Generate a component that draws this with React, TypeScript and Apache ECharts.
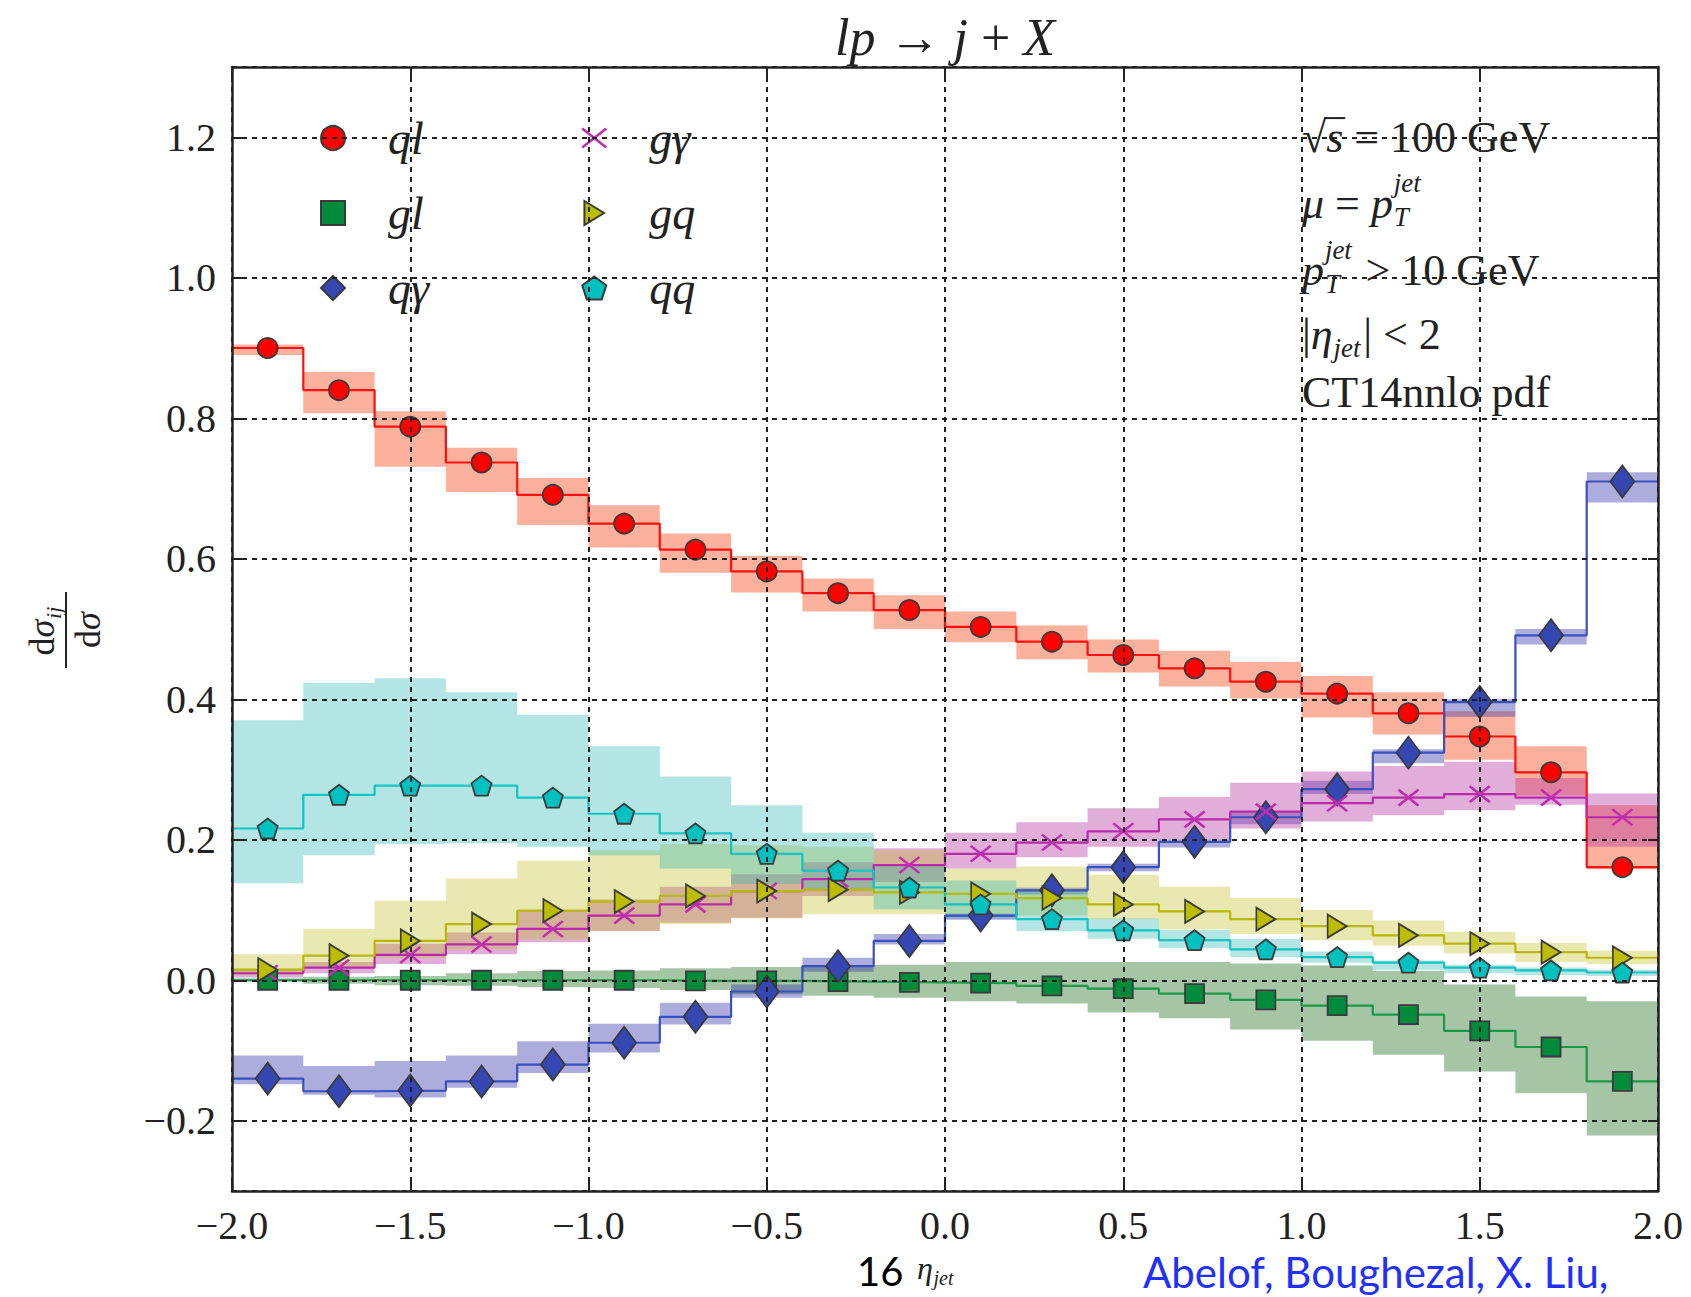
import React, { useEffect, useRef } from 'react';
import * as echarts from 'echarts';

// ---------------- data ----------------
const edges = [-2.0, -1.8, -1.6, -1.4, -1.2, -1.0, -0.8, -0.6, -0.4, -0.2, 0.0, 0.2, 0.4, 0.6, 0.8, 1.0, 1.2, 1.4, 1.6, 1.8, 2.0];
const centers = [-1.9, -1.7, -1.5, -1.3, -1.1, -0.9, -0.7, -0.5, -0.3, -0.1, 0.1, 0.3, 0.5, 0.7, 0.9, 1.1, 1.3, 1.5, 1.7, 1.9];

const qlVal = [0.900, 0.840, 0.788, 0.737, 0.691, 0.650, 0.613, 0.582, 0.551, 0.527, 0.503, 0.482, 0.463, 0.444, 0.425, 0.408, 0.380, 0.347, 0.296, 0.161];
const qlLo = [0.890, 0.807, 0.731, 0.695, 0.648, 0.616, 0.580, 0.552, 0.525, 0.500, 0.481, 0.457, 0.438, 0.418, 0.401, 0.374, 0.350, 0.314, 0.263, 0.158];
const qlHi = [0.905, 0.866, 0.810, 0.758, 0.715, 0.676, 0.636, 0.604, 0.572, 0.548, 0.525, 0.505, 0.485, 0.469, 0.453, 0.433, 0.410, 0.383, 0.333, 0.249];

const glVal = [0.000, 0.000, 0.000, 0.000, 0.000, 0.000, -0.001, -0.001, -0.002, -0.003, -0.004, -0.008, -0.012, -0.019, -0.028, -0.036, -0.049, -0.072, -0.095, -0.144];
const glLo = [-0.002, -0.005, -0.007, -0.008, -0.010, -0.011, -0.014, -0.020, -0.022, -0.025, -0.030, -0.033, -0.046, -0.054, -0.070, -0.086, -0.106, -0.130, -0.161, -0.221];
const glHi = [0.003, 0.005, 0.006, 0.010, 0.013, 0.014, 0.017, 0.019, 0.020, 0.022, 0.026, 0.026, 0.026, 0.026, 0.024, 0.021, 0.013, -0.006, -0.023, -0.030];

const qaVal = [-0.140, -0.158, -0.157, -0.144, -0.120, -0.089, -0.052, -0.016, 0.020, 0.056, 0.092, 0.128, 0.161, 0.197, 0.232, 0.272, 0.324, 0.396, 0.491, 0.710];
const qaLo = [-0.148, -0.163, -0.167, -0.153, -0.132, -0.103, -0.063, -0.025, 0.012, 0.051, 0.086, 0.122, 0.155, 0.189, 0.222, 0.265, 0.309, 0.375, 0.478, 0.680];
const qaHi = [-0.107, -0.122, -0.115, -0.107, -0.087, -0.062, -0.032, -0.006, 0.032, 0.066, 0.095, 0.132, 0.166, 0.201, 0.240, 0.284, 0.329, 0.400, 0.500, 0.723];

const gaVal = [0.010, 0.018, 0.036, 0.051, 0.073, 0.092, 0.108, 0.127, 0.144, 0.164, 0.180, 0.196, 0.212, 0.229, 0.240, 0.252, 0.260, 0.265, 0.260, 0.232];
const gaLo = [0.004, 0.010, 0.023, 0.037, 0.054, 0.070, 0.082, 0.089, 0.120, 0.140, 0.159, 0.175, 0.190, 0.201, 0.216, 0.226, 0.235, 0.242, 0.250, 0.190];
const gaHi = [0.016, 0.026, 0.052, 0.068, 0.099, 0.115, 0.133, 0.151, 0.168, 0.188, 0.210, 0.225, 0.245, 0.261, 0.281, 0.297, 0.305, 0.311, 0.288, 0.266];

const gqVal = [0.015, 0.035, 0.056, 0.080, 0.099, 0.112, 0.120, 0.127, 0.129, 0.125, 0.123, 0.117, 0.108, 0.098, 0.087, 0.077, 0.064, 0.052, 0.040, 0.032];
const gqLo = [0.008, 0.018, 0.032, 0.044, 0.058, 0.070, 0.080, 0.088, 0.094, 0.094, 0.094, 0.092, 0.087, 0.073, 0.066, 0.057, 0.049, 0.038, 0.026, 0.023];
const gqHi = [0.037, 0.073, 0.113, 0.145, 0.170, 0.185, 0.194, 0.192, 0.190, 0.185, 0.159, 0.162, 0.150, 0.133, 0.117, 0.100, 0.085, 0.069, 0.053, 0.042];

const qqVal = [0.216, 0.264, 0.277, 0.277, 0.260, 0.237, 0.209, 0.180, 0.156, 0.132, 0.108, 0.087, 0.071, 0.057, 0.044, 0.033, 0.025, 0.018, 0.014, 0.011];
const qqLo = [0.138, 0.178, 0.194, 0.195, 0.190, 0.178, 0.159, 0.137, 0.128, 0.101, 0.088, 0.070, 0.059, 0.046, 0.033, 0.025, 0.015, 0.010, 0.007, 0.006];
const qqHi = [0.370, 0.423, 0.430, 0.410, 0.378, 0.333, 0.290, 0.249, 0.210, 0.165, 0.142, 0.130, 0.088, 0.072, 0.059, 0.041, 0.028, 0.022, 0.018, 0.015];

const legendLeft = ['ql', 'gl', 'qγ'];
const legendRight = ['gγ', 'gq', 'qq'];

// ---------------- styling ----------------
const SERIF = '"Liberation Serif", "DejaVu Serif", serif';
const SERIF_NAME = 'Liberation Serif';
const INK = '#222';
const EDGE = '#3a3a3a';

const XPATH = 'path://M0,0 L10,8 M10,0 L0,8';
const TRIPATH = 'path://M0,0 L9,5.5 L0,11 Z';
const PENTPATH = 'path://M10,0 L19.51,6.91 L15.88,18.09 L4.12,18.09 L0.49,6.91 Z';

type Def = {
  name: string; vals: number[]; lo: number[]; hi: number[];
  line: string; fill: string; band: string; symbol: string; size: any; border?: string; bw?: number;
};

const defs: Def[] = [
  { name: 'ql', vals: qlVal, lo: qlLo, hi: qlHi, line: '#ff1010', fill: '#ff0000', band: 'rgba(250,100,60,0.5)', symbol: 'circle', size: 20 },
  { name: 'gl', vals: glVal, lo: glLo, hi: glHi, line: '#16994a', fill: '#008a3c', band: 'rgba(30,110,30,0.4)', symbol: 'rect', size: 19 },
  { name: 'qγ', vals: qaVal, lo: qaLo, hi: qaHi, line: '#3a4fc0', fill: '#3447b2', band: 'rgba(50,50,170,0.4)', symbol: 'diamond', size: [24, 32] },
  { name: 'gγ', vals: gaVal, lo: gaLo, hi: gaHi, line: '#b82aaa', fill: '#c02db0', band: 'rgba(180,50,160,0.4)', symbol: XPATH, size: [20, 16], border: '#c02db0', bw: 2.5 },
  { name: 'gq', vals: gqVal, lo: gqLo, hi: gqHi, line: '#b8b800', fill: '#bcbc00', band: 'rgba(190,190,30,0.35)', symbol: TRIPATH, size: [19, 23] },
  { name: 'qq', vals: qqVal, lo: qqLo, hi: qqHi, line: '#10c4c4', fill: '#00c0c0', band: 'rgba(40,180,180,0.35)', symbol: PENTPATH, size: 20 },
];

// ---------------- text helpers ----------------
let _ctx: CanvasRenderingContext2D | null = null;
function measure(text: string, font: string): number {
  if (!_ctx) _ctx = document.createElement('canvas').getContext('2d');
  _ctx!.font = font;
  return _ctx!.measureText(text).width;
}
function fontStr(fs: number, italic?: boolean, fam: string = SERIF_NAME) {
  return `${italic ? 'italic ' : ''}${fs}px "${fam}"`;
}
function textEl(x: number, y: number, text: string, font: string, color: string) {
  return {
    type: 'text', x, y, silent: true,
    style: { text, font, fill: color, align: 'left', verticalAlign: 'middle', textAlign: 'left', textVerticalAlign: 'middle' },
  };
}
type Part = { t?: string; i?: boolean; sup?: string; sub?: string; over?: boolean };
function mathEls(parts: Part[], x0: number, y: number, fs: number, align: 'left' | 'center', color: string) {
  const ss = Math.round(fs * 0.62);
  const items: any[] = [];
  let w = 0;
  for (const p of parts) {
    const f = fontStr(fs, p.i);
    const tw = p.t ? measure(p.t, f) : 0;
    let sw = 0;
    if (p.sup) sw = Math.max(sw, measure(p.sup, fontStr(ss, true)));
    if (p.sub) sw = Math.max(sw, measure(p.sub, fontStr(ss, true)));
    items.push({ p, x: w, tw, f });
    w += tw + (sw ? sw + fs * 0.08 : 0);
  }
  const start = align === 'center' ? x0 - w / 2 : x0;
  const els: any[] = [];
  for (const it of items) {
    if (it.p.t) els.push(textEl(start + it.x, y, it.p.t, it.f, color));
    const sx = start + it.x + it.tw + fs * 0.02;
    if (it.p.sup) els.push(textEl(sx, y - fs * 0.45, it.p.sup, fontStr(ss, true), color));
    if (it.p.sub) els.push(textEl(sx, y + fs * 0.32, it.p.sub, fontStr(ss, true), color));
    if (it.p.over) {
      els.push({ type: 'line', silent: true, shape: { x1: start + it.x - 2, y1: y - fs * 0.43, x2: start + it.x + it.tw + 2, y2: y - fs * 0.43 }, style: { stroke: color, lineWidth: 2 } });
    }
  }
  return els;
}

function tickFmt(v: number) {
  const s = Math.abs(v).toFixed(1);
  return v < -1e-9 ? '\u2212' + s : s;
}

function buildOption() {
  const series: any[] = [];
  // uncertainty bands
  defs.forEach((d) => {
    series.push({
      type: 'custom', name: d.name + ' band', z: 1, silent: true, clip: true,
      data: [[0, 0]],
      renderItem: (_p: any, api: any) => {
        const pts: number[][] = [];
        for (let i = 0; i < d.vals.length; i++) {
          pts.push(api.coord([edges[i], d.hi[i]]));
          pts.push(api.coord([edges[i + 1], d.hi[i]]));
        }
        for (let i = d.vals.length - 1; i >= 0; i--) {
          pts.push(api.coord([edges[i + 1], d.lo[i]]));
          pts.push(api.coord([edges[i], d.lo[i]]));
        }
        return { type: 'polygon', shape: { points: pts }, style: { fill: d.band, stroke: null } };
      },
    });
  });
  // step lines
  defs.forEach((d) => {
    series.push({
      type: 'line', name: d.name + ' line', z: 2, step: 'end', symbol: 'none', silent: true,
      data: edges.map((e, i) => [e, d.vals[Math.min(i, d.vals.length - 1)]]),
      lineStyle: { color: d.line, width: 2.2 },
    });
  });
  // markers
  defs.forEach((d) => {
    series.push({
      type: 'scatter', name: d.name, z: 3, symbol: d.symbol, symbolSize: d.size,
      data: centers.map((c, i) => [c, d.vals[i]]),
      itemStyle: { color: d.fill, borderColor: d.border || EDGE, borderWidth: d.bw || 1.8, opacity: 1 },
    });
  });

  const legendCommon = {
    orient: 'vertical', itemWidth: 24, itemHeight: 24, itemGap: 29, selectedMode: false, symbolKeepAspect: true,
    textStyle: { fontFamily: SERIF, fontStyle: 'italic', fontSize: 46, color: INK, lineHeight: 44, padding: [0, 0, 0, 38] },
  };
  const legData = (names: string[]) => names.map((n) => (n === 'gγ' ? { name: n, itemStyle: { borderWidth: 2.5, borderColor: '#c02db0' } } : { name: n }));

  const axisLine = { show: true, onZero: false, lineStyle: { color: INK, width: 2.5 } };
  const axisTick = { show: true, inside: true, length: 10, lineStyle: { color: INK, width: 2 } };
  const splitLine = { show: true, lineStyle: { color: INK, width: 2, type: [5, 5] } };
  const labelStyle = { fontFamily: SERIF, fontSize: 40, color: INK };

  const annX = 1302;
  const annFs = 44;
  const graphics: any[] = [
    // title
    ...mathEls([{ t: 'lp', i: true }, { t: ' \u2192 ' }, { t: 'j', i: true }, { t: ' + ' }, { t: 'X', i: true }], 945, 37, 52, 'center', INK),
    // annotation block
    ...mathEls([{ t: '\u221A' }, { t: 's', i: true, over: true }, { t: ' = 100 GeV' }], annX, 137, annFs, 'left', INK),
    ...mathEls([{ t: '\u03BC', i: true }, { t: ' = ' }, { t: 'p', i: true, sup: 'jet', sub: 'T' }], annX, 203, annFs, 'left', INK),
    ...mathEls([{ t: 'p', i: true, sup: 'jet', sub: 'T' }, { t: ' > 10 GeV' }], annX, 270, annFs, 'left', INK),
    ...mathEls([{ t: '|' }, { t: '\u03B7', i: true, sub: 'jet' }, { t: '| < 2' }], annX, 334, annFs, 'left', INK),
    ...mathEls([{ t: 'CT14nnlo pdf' }], annX, 392, annFs, 'left', INK),
    // y-axis label (rotated fraction)
    {
      type: 'group', x: 66, y: 630, rotation: Math.PI / 2, silent: true,
      children: [
        ...mathEls([{ t: 'd' }, { t: '\u03C3', i: true, sub: 'ij' }], 0, -24, 36, 'center', INK),
        { type: 'line', shape: { x1: -38, y1: 0, x2: 38, y2: 0 }, style: { stroke: INK, lineWidth: 2 } },
        ...mathEls([{ t: 'd' }, { t: '\u03C3', i: true }], 0, 22, 36, 'center', INK),
      ],
    },
    // bottom texts
    textEl(857, 1271, '16', '40px "Lato"', '#000'),
    ...mathEls([{ t: '\u03B7', i: true, sub: 'jet' }], 917, 1268, 32, 'left', INK),
  ];
  const credit = 'Abelof, Boughezal, X. Liu,';
  const cfs = Math.min(42, Math.round(42 * 536 / measure(credit, '42px "Lato"')));
  graphics.push(textEl(1143, 1272, credit, `${cfs}px "Lato"`, '#1f30ff'));

  return {
    animation: false,
    backgroundColor: '#ffffff',
    textStyle: { fontFamily: SERIF },
    grid: { left: 232, top: 67, width: 1426, height: 1124, containLabel: false },
    xAxis: [
      {
        type: 'value', min: -2, max: 2, interval: 0.5, position: 'bottom', z: 10,
        axisLine, axisTick, splitLine,
        axisLabel: { ...labelStyle, margin: 14, formatter: tickFmt },
      },
      {
        type: 'value', min: -2, max: 2, interval: 0.5, position: 'top', z: 10,
        axisLine, axisTick, splitLine: { show: false }, axisLabel: { show: false },
      },
    ],
    yAxis: [
      {
        type: 'value', min: -0.3, max: 1.3, splitNumber: 8, position: 'left', z: 10,
        axisLine, axisTick, splitLine,
        axisLabel: { ...labelStyle, margin: 16, formatter: tickFmt, showMinLabel: false, showMaxLabel: false },
      },
      {
        type: 'value', min: -0.3, max: 1.3, splitNumber: 8, position: 'right', z: 10,
        axisLine, axisTick, splitLine: { show: false }, axisLabel: { show: false },
      },
    ],
    legend: [
      { ...legendCommon, left: 315, top: 110, data: legData(legendLeft) },
      { ...legendCommon, left: 576, top: 110, data: legData(legendRight) },
    ],
    graphic: { elements: graphics },
    series,
  };
}

export default function App() {
  const ref = useRef<HTMLDivElement>(null);
  useEffect(() => {
    if (!ref.current) return;
    const chart = echarts.init(ref.current, null, { renderer: 'svg' });
    chart.setOption(buildOption() as any);
    return () => chart.dispose();
  }, []);
  return (
    <div
      ref={ref}
      style={{ position: 'fixed', left: 0, top: 0, width: 1691, height: 1297, background: '#fff' }}
    />
  );
}
